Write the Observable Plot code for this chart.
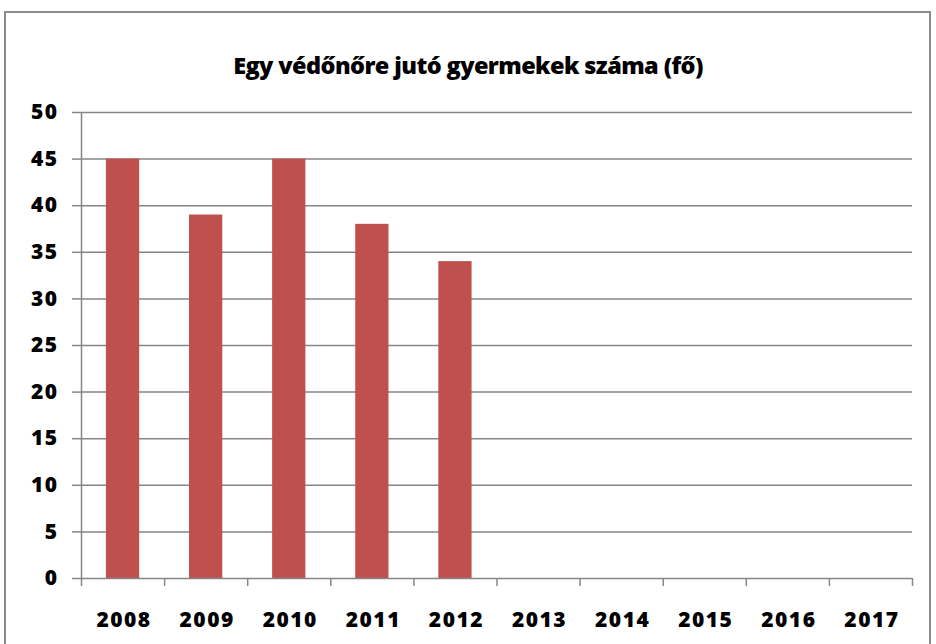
<!DOCTYPE html>
<html>
<head>
<meta charset="utf-8">
<script src="https://cdn.jsdelivr.net/npm/d3@7"></script>
<script src="https://cdn.jsdelivr.net/npm/@observablehq/plot@0.6"></script>
<style>
  html, body { margin: 0; padding: 0; background: #fff; }
  #wrap { position: relative; width: 936px; height: 644px; overflow: hidden; }
  #frame { position: absolute; left: 4px; top: 11px; width: 927px; height: 640px; border: 2px solid #8c8c8c; box-sizing: border-box; }
  #title { position: absolute; left: 0; width: 936px; top: 50px; text-align: center;
           font-family: "Open Sans", sans-serif; font-weight: 800; font-size: 23.5px; letter-spacing: -0.6px; color: #000; line-height: 30px; }
  #chart { position: absolute; left: 0; top: 0; }
  #chart text { font-family: "Open Sans", sans-serif; font-weight: 800; letter-spacing: 1.5px; }
</style>
</head>
<body>
<div id="wrap">
  <div id="frame"></div>
  <div id="chart"></div>
  <div id="title">Egy védőnőre jutó gyermekek száma (fő)</div>
</div>
<script>
const years = ["2008","2009","2010","2011","2012","2013","2014","2015","2016","2017"];
const values = [45, 39, 45, 38, 34, null, null, null, null, null];
const yTicks = [0,5,10,15,20,25,30,35,40,45,50];

const data = years.map((y, i) => ({year: y, i, value: values[i]}));
const bars = data.filter(d => d.value != null);
const boundaries = d3.range(0, years.length + 1);

const plot = Plot.plot({
  width: 936,
  height: 644,
  marginTop: 112,
  marginBottom: 66,
  marginLeft: 81,
  marginRight: 24,
  style: {fontSize: "21px", color: "#000", background: "transparent"},
  x: {type: "linear", domain: [0, years.length], axis: null},
  y: {domain: [0, 50], axis: null},
  marks: [
    Plot.ruleY(yTicks.filter(t => t > 0), {stroke: "#868686", strokeWidth: 1.5}),
    Plot.rectY(bars, {x1: d => d.i + 0.3, x2: d => d.i + 0.7, y: "value", fill: "#C0504D"}),
    Plot.ruleX([0], {stroke: "#868686", strokeWidth: 1.5}),
    Plot.axisY({ticks: yTicks, label: null, tickSize: 9, tickPadding: 14, stroke: "#868686", strokeWidth: 1.5, fill: "#000", fontWeight: 800, fontSize: 21, tickFormat: d => d}),
    Plot.ruleY([0], {stroke: "#868686", strokeWidth: 1.5}),
    Plot.axisX({ticks: boundaries, label: null, tickSize: 8, tickFormat: () => "", stroke: "#868686", strokeWidth: 1.5}),
    Plot.text(data, {x: d => d.i + 0.5, y: 0, text: "year", dy: 42, dx: 1, fontSize: 21, fontWeight: 800, fill: "#000"})
  ]
});
document.getElementById("chart").appendChild(plot);
</script>
</body>
</html>
